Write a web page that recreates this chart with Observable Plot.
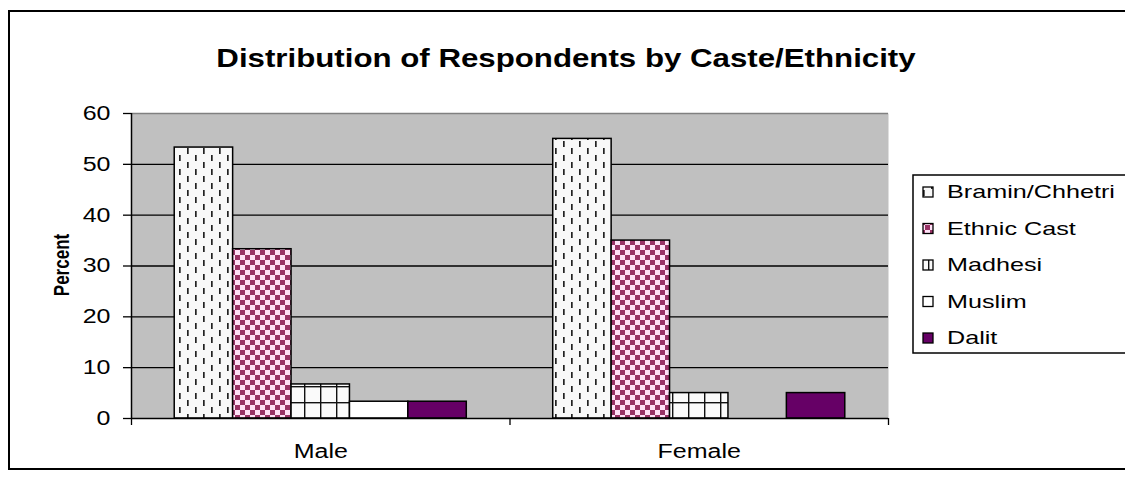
<!DOCTYPE html>
<html>
<head>
<meta charset="utf-8">
<script src="https://cdn.jsdelivr.net/npm/d3@7"></script>
<script src="https://cdn.jsdelivr.net/npm/@observablehq/plot@0.6"></script>
<style>
  html, body { margin: 0; padding: 0; background: #fff; }
  body { width: 1125px; height: 480px; overflow: hidden; font-family: Arial, "Liberation Sans", sans-serif; }
  #wrap { position: relative; width: 1125px; height: 480px; }
  #chart, #overlay { position: absolute; left: 0; top: 0; }
  #overlay { pointer-events: none; }
</style>
</head>
<body>
<div id="wrap">
  <svg id="defs" width="0" height="0" style="position:absolute"></svg>
  <div id="chart"></div>
  <svg id="overlay" width="1125" height="480"></svg>
</div>
<script>
// ---- data ----
const chartTitle = "Distribution of Respondents by Caste/Ethnicity";
const yLabel = "Percent";
const genders = ["Male", "Female"];
const castes = ["Bramin/Chhetri", "Ethnic Cast", "Madhesi", "Muslim", "Dalit"];
const maleValues = [53.3, 33.3, 6.7, 3.3, 3.3];
const femaleValues = [55, 35, 5, 0, 5];
const yTicks = [0, 10, 20, 30, 40, 50, 60];

// ---- styles ----
const FONT = 'Arial, "Liberation Sans", sans-serif';
const fills = ["url(#pBramin)", "url(#pEthnic)", "url(#pMadhesi)", "#ffffff", "#660066"];
const STRETCH = 1.25;

// ---- pattern definitions ----
const defs = d3.select("#defs").append("defs");
{
  const p = defs.append("pattern").attr("id", "pBramin").attr("patternUnits", "userSpaceOnUse")
    .attr("width", 16).attr("height", 14);
  p.append("rect").attr("width", 16).attr("height", 14).attr("fill", "#f8f8f8");
  p.append("rect").attr("x", 3).attr("y", 1).attr("width", 1.7).attr("height", 6).attr("fill", "#222");
  p.append("rect").attr("x", 11).attr("y", 8).attr("width", 1.7).attr("height", 6).attr("fill", "#222");
}
{
  const p = defs.append("pattern").attr("id", "pEthnic").attr("patternUnits", "userSpaceOnUse")
    .attr("width", 10).attr("height", 10);
  p.append("rect").attr("width", 10).attr("height", 10).attr("fill", "#ffe2f7");
  p.append("rect").attr("width", 5).attr("height", 5).attr("fill", "#993366");
  p.append("rect").attr("x", 5).attr("y", 5).attr("width", 5).attr("height", 5).attr("fill", "#993366");
}
{
  const p = defs.append("pattern").attr("id", "pMadhesi").attr("patternUnits", "userSpaceOnUse")
    .attr("width", 16).attr("height", 16).attr("y", 2);
  p.append("rect").attr("width", 16).attr("height", 16).attr("fill", "#fafafa");
  p.append("rect").attr("width", 1.4).attr("height", 16).attr("fill", "#111");
  p.append("rect").attr("width", 16).attr("height", 1.4).attr("fill", "#111");
}

// ---- table ----
const seriesValues = [maleValues, femaleValues];
const rows = genders.flatMap((g, gi) => castes.map((c, ci) => ({gender: g, gi, caste: c, value: seriesValues[gi][ci]})));
const inner = d3.scaleBand().domain(castes).range([0, 1]).paddingInner(0).paddingOuter(0.74);

const chart = Plot.plot({
  width: 1125,
  height: 480,
  marginLeft: 131,
  marginRight: 237,
  marginTop: 113,
  marginBottom: 62,
  style: {fontFamily: FONT, fontSize: "20px", color: "#000", background: "transparent"},
  x: {domain: [0, genders.length], axis: null},
  y: {domain: [yTicks[0], yTicks[yTicks.length - 1]], axis: null},
  color: {domain: castes, range: fills},
  marks: [
    Plot.frame({fill: "#c0c0c0", stroke: "none"}),
    Plot.ruleY(yTicks.slice(1, -1), {stroke: "#000", strokeWidth: 1.4}),
    Plot.ruleY(yTicks.slice(-1), {stroke: "#808080", strokeWidth: 1.5}),
    Plot.rect(rows.filter(d => d.value > 0), {
      x1: d => d.gi + inner(d.caste),
      x2: d => d.gi + inner(d.caste) + inner.bandwidth(),
      y1: 0,
      y2: "value",
      fill: "caste",
      stroke: "#000",
      strokeWidth: 1.5
    }),
    Plot.ruleX([0], {stroke: "#000", strokeWidth: 1.5}),
    Plot.ruleY([0], {stroke: "#000", strokeWidth: 1.5}),
    Plot.axisY({ticks: yTicks, tickSize: 8, tickPadding: 13, fontSize: 20, label: null, strokeWidth: 1.3}),
    Plot.axisX({ticks: d3.range(genders.length + 1), tickSize: 7, tickFormat: () => "", label: null, strokeWidth: 1.3}),
    Plot.text(genders, {x: (d, i) => i + 0.5, y: () => 0, text: d => d, dy: 33, fontSize: 20, textAnchor: "middle"})
  ]
});
document.getElementById("chart").appendChild(chart);

// horizontal stretch of text glyphs around their anchor (matches the wide lettering of the original)
function stretchText(el, s) {
  const r = el.getBoundingClientRect();
  if (!r.width) return;
  const anchor = getComputedStyle(el).textAnchor || el.getAttribute("text-anchor") || "start";
  const sx = anchor === "end" ? r.right : anchor === "middle" ? (r.left + r.right) / 2 : r.left;
  const sy = (r.top + r.bottom) / 2;
  const parent = el.parentNode;
  const p = new DOMPoint(sx, sy).matrixTransform(parent.getScreenCTM().inverse());
  const g = document.createElementNS("http://www.w3.org/2000/svg", "g");
  g.setAttribute("transform", `translate(${p.x},${p.y}) scale(${s},1) translate(${-p.x},${-p.y})`);
  parent.insertBefore(g, el);
  g.appendChild(el);
}
const plotTexts = Array.from(chart.querySelectorAll("text"));
plotTexts.forEach(el => stretchText(el, STRETCH));

// ---- overlay: border, title, axis title, legend ----
const ov = d3.select("#overlay");
ov.append("rect").attr("x", 9).attr("y", 11).attr("width", 1300).attr("height", 458)
  .attr("fill", "none").attr("stroke", "#000").attr("stroke-width", 2);

ov.append("text").attr("transform", `translate(566,67) scale(${STRETCH},1)`).attr("text-anchor", "middle")
  .attr("font-family", FONT).attr("font-weight", "bold").attr("font-size", 25).text(chartTitle);

ov.append("text")
  .attr("transform", `translate(62,265) scale(${STRETCH},1) rotate(-90)`)
  .attr("text-anchor", "middle").attr("dy", "0.35em")
  .attr("font-family", FONT).attr("font-weight", "bold").attr("font-size", 17).text(yLabel);

const leg = ov.append("g");
leg.append("rect").attr("x", 913).attr("y", 175).attr("width", 400).attr("height", 178)
  .attr("fill", "#fff").attr("stroke", "#000").attr("stroke-width", 1.5);
castes.forEach((c, i) => {
  const cy = 192 + i * 36.5;
  leg.append("rect").attr("x", 923).attr("y", cy - 5).attr("width", 10).attr("height", 10)
    .attr("fill", fills[i]).attr("stroke", "#000").attr("stroke-width", 1.3);
  leg.append("text").attr("transform", `translate(947,${cy}) scale(1.4,1)`).attr("dy", "0.35em")
    .attr("font-family", FONT).attr("font-size", 18).text(c);
});
</script>
</body>
</html>
